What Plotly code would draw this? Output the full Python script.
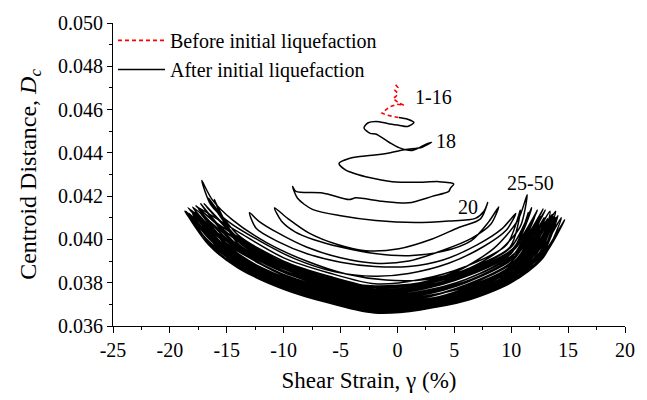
import plotly.graph_objects as go

# Cycles 1-16 (before initial liquefaction)
strain_before = [-0.16, 0.04, -0.22, 0.04, -0.13, -0.39, 0.13, 0.57, -0.04, -0.74, -1.36, -1.00, 0.13]
dc_before = [0.04715, 0.04702, 0.04689, 0.04675, 0.04661, 0.04652, 0.04630, 0.04620, 0.04625,
             0.04611, 0.04584, 0.04575, 0.04563]

# Cycles 17-23 (after initial liquefaction, growing loops)
strain_17_23 = [
    0.13, 0.90, 1.45, 0.90, 0.10, -0.80, -1.90, -2.60, -2.94,                       # 17
    -2.40, -1.91, -0.74, 0.13, 1.30, 2.47, 3.00,                                     # 18 R
    2.17, 0.72, -0.74, -2.00, -3.09, -4.25, -5.13,                                   # 18 L
    -4.54, -3.50, -2.79, -0.46, 1.60, 3.64, 4.60, 4.95,                              # 19 R
    4.66, 4.51, 3.05, 1.00, -1.33, -3.66, -4.25, -6.59, -8.92, -9.22,                # 19 L
    -8.78, -7.47, -4.84, -1.91, 1.60, 4.51, 6.85, 7.60, 7.93,                        # 20 R
    7.30, 5.39, 3.05, 0.13, -2.80, -5.20, -7.80, -9.60, -10.80,                      # 20 L
    -10.20, -9.00, -7.40, -5.00, -2.00, 1.00, 4.00, 6.50, 8.00, 8.90,                # 21 R
    8.20, 6.50, 4.00, 1.00, -2.00, -5.00, -8.00, -10.50, -12.20, -13.00,             # 21 L
    -12.40, -10.50, -8.00, -5.00, -2.00, 1.00, 4.00, 7.00, 9.20, 10.40,              # 22 R
    9.60, 7.50, 4.50, 1.00, -2.00, -5.50, -9.00, -12.00, -14.80, -16.40, -17.20,     # 22 L
    -16.30, -14.50, -11.50, -8.00, -4.50, -1.00, 2.50, 6.00, 9.00, 10.80, 11.40,     # 23 R
    10.60, 8.50, 5.50, 2.00, -2.00, -6.00, -10.00, -13.50, -16.00, -17.60,           # 23 L
]
dc_17_23 = [
    0.04563, 0.04555, 0.04540, 0.04522, 0.04528, 0.04535, 0.04545, 0.04538, 0.04515,
    0.04490, 0.04487, 0.04449, 0.04424, 0.04411, 0.04439, 0.04449,
    0.04426, 0.04415, 0.04399, 0.04390, 0.04384, 0.04374, 0.04351,
    0.04320, 0.04300, 0.04290, 0.04267, 0.04264, 0.04267, 0.04262, 0.04256,
    0.04237, 0.04222, 0.04199, 0.04169, 0.04176, 0.04192, 0.04184, 0.04215, 0.04222, 0.04245,
    0.04190, 0.04139, 0.04108, 0.04087, 0.04078, 0.04085, 0.04097, 0.04130, 0.04170,
    0.04095, 0.04055, 0.04002, 0.03957, 0.03948, 0.03975, 0.04030, 0.04095, 0.04146,
    0.04085, 0.04035, 0.04000, 0.03965, 0.03935, 0.03925, 0.03945, 0.03995, 0.04080, 0.04150,
    0.04070, 0.04005, 0.03950, 0.03900, 0.03890, 0.03915, 0.03965, 0.04030, 0.04085, 0.04124,
    0.04050, 0.03990, 0.03935, 0.03895, 0.03875, 0.03875, 0.03905, 0.03975, 0.04050, 0.04120,
    0.04045, 0.03965, 0.03890, 0.03843, 0.03830, 0.03850, 0.03910, 0.03990, 0.04080, 0.04160, 0.04272,
    0.04185, 0.04090, 0.03985, 0.03900, 0.03840, 0.03812, 0.03815, 0.03860, 0.03950, 0.04060, 0.04207,
    0.04090, 0.03960, 0.03860, 0.03800, 0.03785, 0.03815, 0.03890, 0.03995, 0.04080, 0.04150,
]

# Cycles 24-50 (stabilised butterfly band)
strain_24_50 = [
    -14.0, -10.0, -6.0, -2.0, 2.0, 6.0, 9.6, 10.8, 9.9, 6.0, 2.0, -2.0, -6.0, -10.0, -14.0, -16.6,                # 24
    -14.2, -10.1, -6.0, -2.1, 2.0, 6.1, 10.0, 11.8, 10.2, 6.0, 2.0, -2.0, -6.0, -10.0, -14.0, -17.0,              # 25
    -14.0, -10.0, -5.9, -2.0, 2.1, 6.0, 10.1, 12.3, 10.3, 6.2, 2.0, -2.0, -6.1, -10.2, -14.2, -17.7,              # 26
    -14.0, -10.0, -6.0, -2.0, 2.0, 6.0, 10.0, 11.5, 10.0, 6.0, 2.0, -2.0, -6.0, -10.0, -14.0, -16.1,              # 27
    -14.1, -10.0, -6.0, -2.0, 2.0, 6.0, 10.1, 12.8, 10.4, 6.0, 2.0, -2.0, -6.0, -10.0, -14.0, -16.5, -18.0,       # 28
    -14.0, -10.0, -6.0, -2.0, 2.0, 6.0, 10.0, 13.0, 10.5, 6.0, 2.0, -2.0, -6.0, -10.0, -14.0, -17.3,              # 29
    -14.1, -10.0, -6.0, -2.0, 2.0, 6.0, 10.0, 12.1, 10.2, 6.0, 2.0, -2.0, -6.0, -10.0, -14.0, -16.5, -18.4,       # 30
    -14.0, -10.0, -6.0, -2.0, 2.0, 6.0, 10.0, 12.5, 13.4, 10.8, 6.0, 2.0, -2.0, -6.0, -10.0, -14.0, -17.5,        # 31
    -14.0, -10.0, -6.0, -2.0, 2.0, 6.0, 10.0, 12.6, 10.3, 6.0, 2.0, -2.0, -6.0, -10.0, -14.0, -16.5, -18.1,       # 32
    -14.0, -10.0, -6.0, -2.0, 2.0, 6.0, 10.0, 12.5, 13.9, 11.0, 6.0, 2.0, -2.0, -6.0, -10.0, -14.0, -17.8,        # 33
    -14.0, -10.0, -6.0, -2.0, 2.0, 6.0, 10.0, 12.9, 10.5, 6.0, 2.0, -2.0, -6.0, -10.0, -14.0, -16.6, -18.6,       # 34
    -14.0, -10.0, -6.0, -2.0, 2.0, 6.0, 10.0, 12.5, 13.6, 10.8, 6.0, 2.0, -2.0, -6.0, -10.0, -14.0, -17.2,        # 35
    -14.0, -10.0, -6.0, -2.0, 2.0, 6.0, 10.0, 12.4, 10.2, 6.0, 2.0, -2.0, -6.0, -10.0, -14.0, -16.5, -18.3,       # 36
    -14.0, -10.0, -6.0, -2.0, 2.0, 6.0, 10.0, 12.5, 14.1, 11.2, 6.0, 2.0, -2.0, -6.0, -10.0, -14.0, -17.9,        # 37
    -14.0, -10.0, -6.0, -2.0, 2.0, 6.0, 10.0, 13.2, 10.6, 6.0, 2.0, -2.0, -6.0, -10.0, -14.0, -16.6, -18.7,       # 38
    -14.0, -10.0, -6.0, -2.0, 2.0, 6.0, 10.0, 12.5, 13.8, 11.0, 6.0, 2.0, -2.0, -6.0, -10.0, -14.0, -17.4,        # 39
    -14.0, -10.0, -6.0, -2.0, 2.0, 6.0, 10.0, 12.7, 10.4, 6.0, 2.0, -2.0, -6.0, -10.0, -14.0, -16.5, -18.2,       # 40
    -14.0, -10.0, -6.0, -2.0, 2.0, 6.0, 10.0, 12.8, 14.4, 11.5, 6.0, 2.0, -2.0, -6.0, -10.0, -14.0, -18.0,        # 41
    -14.0, -10.0, -6.0, -2.0, 2.0, 6.0, 10.0, 12.5, 13.5, 10.9, 6.0, 2.0, -2.0, -6.0, -10.0, -14.0, -16.6, -18.5, # 42
    -14.0, -10.0, -6.0, -2.0, 2.0, 6.0, 10.0, 12.6, 14.0, 11.2, 6.0, 2.0, -2.0, -6.0, -10.0, -14.0, -17.6,        # 43
    -14.0, -10.0, -6.0, -2.0, 2.0, 6.0, 10.0, 13.1, 10.7, 6.0, 2.0, -2.0, -6.0, -10.0, -14.0, -16.5, -18.3,       # 44
    -14.0, -10.0, -6.0, -2.0, 2.0, 6.0, 10.0, 12.8, 14.7, 12.2, 9.0, 6.0, 2.0, -2.0, -6.0, -10.0, -14.0, -18.1,   # 45
    -14.0, -10.0, -6.0, -2.0, 2.0, 6.0, 10.0, 12.9, 10.8, 6.0, 2.0, -2.0, -6.0, -10.0, -14.0, -16.6, -18.4,       # 46
    -14.0, -10.0, -6.0, -2.0, 2.0, 6.0, 10.0, 12.6, 13.9, 11.0, 6.0, 2.0, -2.0, -6.0, -10.0, -14.0, -17.7,        # 47
    -14.0, -10.0, -6.0, -2.0, 2.0, 6.0, 10.0, 12.5, 10.3, 6.0, 2.0, -2.0, -6.0, -10.0, -14.0, -16.5, -18.0,       # 48
    -14.0, -10.0, -6.0, -2.0, 2.0, 6.0, 10.0, 12.5, 13.7, 11.0, 6.0, 2.0, -2.0, -6.0, -10.0, -14.0, -17.3,        # 49
    -14.0, -10.0, -6.0, -2.0, 2.0, 6.0, 10.0, 12.2, 10.0, 6.0, 2.0, -2.0, -6.0, -10.0, -14.0, -16.9,              # 50
]
dc_24_50 = [
    0.04035, 0.03915, 0.03845, 0.03795, 0.03815, 0.03875, 0.03975, 0.04135, 0.03965, 0.03860, 0.03800, 0.03780, 0.03830, 0.03900, 0.04020, 0.04190,
    0.04015, 0.03895, 0.03825, 0.03775, 0.03795, 0.03855, 0.03965, 0.04146, 0.03960, 0.03848, 0.03788, 0.03768, 0.03818, 0.03888, 0.04008, 0.04165,
    0.04000, 0.03882, 0.03812, 0.03762, 0.03782, 0.03842, 0.03955, 0.04135, 0.03955, 0.03840, 0.03778, 0.03758, 0.03810, 0.03880, 0.04000, 0.04155,
    0.03990, 0.03872, 0.03802, 0.03752, 0.03772, 0.03832, 0.03940, 0.04124, 0.03935, 0.03828, 0.03768, 0.03748, 0.03798, 0.03868, 0.03990, 0.04184,
    0.03985, 0.03864, 0.03794, 0.03744, 0.03760, 0.03815, 0.03925, 0.04140, 0.03940, 0.03815, 0.03758, 0.03740, 0.03790, 0.03855, 0.03965, 0.04060, 0.04150,
    0.03975, 0.03856, 0.03786, 0.03736, 0.03752, 0.03806, 0.03905, 0.04135, 0.03930, 0.03805, 0.03750, 0.03732, 0.03782, 0.03852, 0.03970, 0.04165,
    0.03965, 0.03848, 0.03778, 0.03728, 0.03746, 0.03805, 0.03915, 0.04110, 0.03915, 0.03800, 0.03742, 0.03724, 0.03772, 0.03838, 0.03945, 0.04045, 0.04146,
    0.03950, 0.03836, 0.03768, 0.03720, 0.03735, 0.03780, 0.03870, 0.03975, 0.04130, 0.03915, 0.03785, 0.03732, 0.03716, 0.03765, 0.03835, 0.03955, 0.04140,
    0.03950, 0.03832, 0.03762, 0.03712, 0.03730, 0.03790, 0.03895, 0.04105, 0.03900, 0.03788, 0.03726, 0.03708, 0.03756, 0.03822, 0.03928, 0.04030, 0.04135,
    0.03930, 0.03825, 0.03755, 0.03705, 0.03720, 0.03765, 0.03855, 0.03955, 0.04130, 0.03905, 0.03770, 0.03716, 0.03700, 0.03748, 0.03818, 0.03935, 0.04125,
    0.03930, 0.03816, 0.03748, 0.03698, 0.03716, 0.03775, 0.03878, 0.04100, 0.03890, 0.03772, 0.03712, 0.03694, 0.03740, 0.03806, 0.03910, 0.04015, 0.04131,
    0.03905, 0.03810, 0.03742, 0.03692, 0.03706, 0.03750, 0.03840, 0.03940, 0.04115, 0.03885, 0.03755, 0.03704, 0.03688, 0.03736, 0.03806, 0.03925, 0.04120,
    0.03918, 0.03804, 0.03736, 0.03686, 0.03704, 0.03762, 0.03866, 0.04090, 0.03870, 0.03760, 0.03700, 0.03683, 0.03728, 0.03794, 0.03898, 0.04000, 0.04120,
    0.03890, 0.03798, 0.03730, 0.03680, 0.03694, 0.03736, 0.03824, 0.03925, 0.04110, 0.03875, 0.03742, 0.03692, 0.03677, 0.03724, 0.03794, 0.03910, 0.04110,
    0.03905, 0.03792, 0.03724, 0.03675, 0.03692, 0.03748, 0.03850, 0.04095, 0.03865, 0.03745, 0.03688, 0.03672, 0.03716, 0.03780, 0.03882, 0.03990, 0.04131,
    0.03876, 0.03786, 0.03720, 0.03670, 0.03684, 0.03726, 0.03812, 0.03910, 0.04105, 0.03860, 0.03732, 0.03682, 0.03668, 0.03714, 0.03784, 0.03898, 0.04105,
    0.03895, 0.03782, 0.03714, 0.03667, 0.03684, 0.03738, 0.03838, 0.04080, 0.03850, 0.03736, 0.03680, 0.03664, 0.03708, 0.03772, 0.03872, 0.03978, 0.04115,
    0.03868, 0.03778, 0.03712, 0.03662, 0.03676, 0.03716, 0.03800, 0.03915, 0.04100, 0.03865, 0.03724, 0.03674, 0.03660, 0.03706, 0.03776, 0.03888, 0.04100,
    0.03885, 0.03780, 0.03712, 0.03665, 0.03680, 0.03728, 0.03822, 0.03935, 0.04090, 0.03855, 0.03726, 0.03676, 0.03662, 0.03706, 0.03770, 0.03868, 0.03975, 0.04120,
    0.03870, 0.03784, 0.03716, 0.03668, 0.03682, 0.03722, 0.03806, 0.03915, 0.04095, 0.03860, 0.03730, 0.03680, 0.03665, 0.03712, 0.03782, 0.03894, 0.04095,
    0.03892, 0.03788, 0.03720, 0.03672, 0.03688, 0.03740, 0.03838, 0.04080, 0.03858, 0.03740, 0.03686, 0.03670, 0.03716, 0.03782, 0.03882, 0.03985, 0.04105,
    0.03875, 0.03790, 0.03724, 0.03676, 0.03688, 0.03725, 0.03805, 0.03920, 0.04090, 0.03890, 0.03790, 0.03730, 0.03686, 0.03673, 0.03720, 0.03790, 0.03900, 0.04098,
    0.03900, 0.03796, 0.03728, 0.03680, 0.03696, 0.03750, 0.03850, 0.04085, 0.03870, 0.03748, 0.03694, 0.03678, 0.03724, 0.03790, 0.03892, 0.03992, 0.04110,
    0.03885, 0.03798, 0.03732, 0.03684, 0.03698, 0.03738, 0.03818, 0.03925, 0.04100, 0.03870, 0.03742, 0.03694, 0.03680, 0.03728, 0.03800, 0.03912, 0.04112,
    0.03910, 0.03804, 0.03736, 0.03688, 0.03704, 0.03760, 0.03862, 0.04085, 0.03870, 0.03758, 0.03702, 0.03686, 0.03732, 0.03798, 0.03900, 0.04005, 0.04118,
    0.03900, 0.03808, 0.03740, 0.03692, 0.03706, 0.03748, 0.03830, 0.03935, 0.04105, 0.03880, 0.03752, 0.03704, 0.03690, 0.03738, 0.03810, 0.03922, 0.04120,
    0.03925, 0.03812, 0.03744, 0.03696, 0.03712, 0.03768, 0.03870, 0.04075, 0.03870, 0.03765, 0.03710, 0.03694, 0.03740, 0.03806, 0.03910, 0.04100,
]

# Axis ticks
x_tick_values = [-25, -20, -15, -10, -5, 0, 5, 10, 15, 20]
x_tick_labels = ["-25", "-20", "-15", "-10", "-5", "0", "5", "10", "15", "20"]

# Cycle-number labels and where they sit
cycle_labels = ["1-16", "18", "20", "25-50"]
cycle_label_strain = [3.2, 4.25, 6.2, 11.7]
cycle_label_dc = [0.04660, 0.04455, 0.04148, 0.04263]

FONT = "Liberation Serif, Times New Roman, serif"

strain_after = strain_17_23 + strain_24_50
dc_after = dc_17_23 + dc_24_50

fig = go.Figure()
fig.add_trace(go.Scatter(
    x=strain_before, y=dc_before, mode="lines",
    name="Before initial liquefaction",
    line=dict(color="#ff0000", width=1.6, dash="4px,3px"),
))
fig.add_trace(go.Scatter(
    x=strain_after, y=dc_after, mode="lines",
    name="After initial liquefaction",
    line=dict(color="#000000", width=1.5, shape="spline", smoothing=0.8),
))

for txt, sx, sy in zip(cycle_labels, cycle_label_strain, cycle_label_dc):
    fig.add_annotation(x=sx, y=sy, text=txt, showarrow=False,
                       font=dict(family=FONT, size=20, color="black"))

fig.update_layout(
    width=647, height=400,
    margin=dict(l=113, r=20, t=20, b=71),
    paper_bgcolor="white", plot_bgcolor="white",
    font=dict(family=FONT, size=20, color="black"),
    showlegend=True,
    legend=dict(x=0.0, y=1.007, xanchor="left", yanchor="top",
                bgcolor="rgba(0,0,0,0)", borderwidth=0,
                font=dict(family=FONT, size=20, color="black"),
                itemwidth=47, tracegroupgap=0),
)
fig.update_xaxes(
    range=[-25, 20], tickvals=x_tick_values, ticktext=x_tick_labels,
    showgrid=False, zeroline=False, showline=True, linecolor="black", linewidth=1,
    ticks="outside", ticklen=6, tickwidth=1, tickcolor="black",
    minor=dict(dtick=2.5, ticks="outside", ticklen=3, tickcolor="black", tickwidth=1, showgrid=False),
    tickfont=dict(family=FONT, size=20),
    title=dict(text="Shear Strain, γ (%)", font=dict(family=FONT, size=23), standoff=11),
)
fig.update_yaxes(
    range=[0.036, 0.050], dtick=0.002, tick0=0.036, tickformat=".3f",
    showgrid=False, zeroline=False, showline=True, linecolor="black", linewidth=1,
    ticks="outside", ticklen=5, tickwidth=1, tickcolor="black",
    minor=dict(dtick=0.001, ticks="outside", ticklen=3, tickcolor="black", tickwidth=1, showgrid=False),
    tickfont=dict(family=FONT, size=20),
    title=dict(text="Centroid Distance, <i>D</i><sub><i>c</i></sub>", font=dict(family=FONT, size=24), standoff=14),
)

fig.write_html("out.html")
